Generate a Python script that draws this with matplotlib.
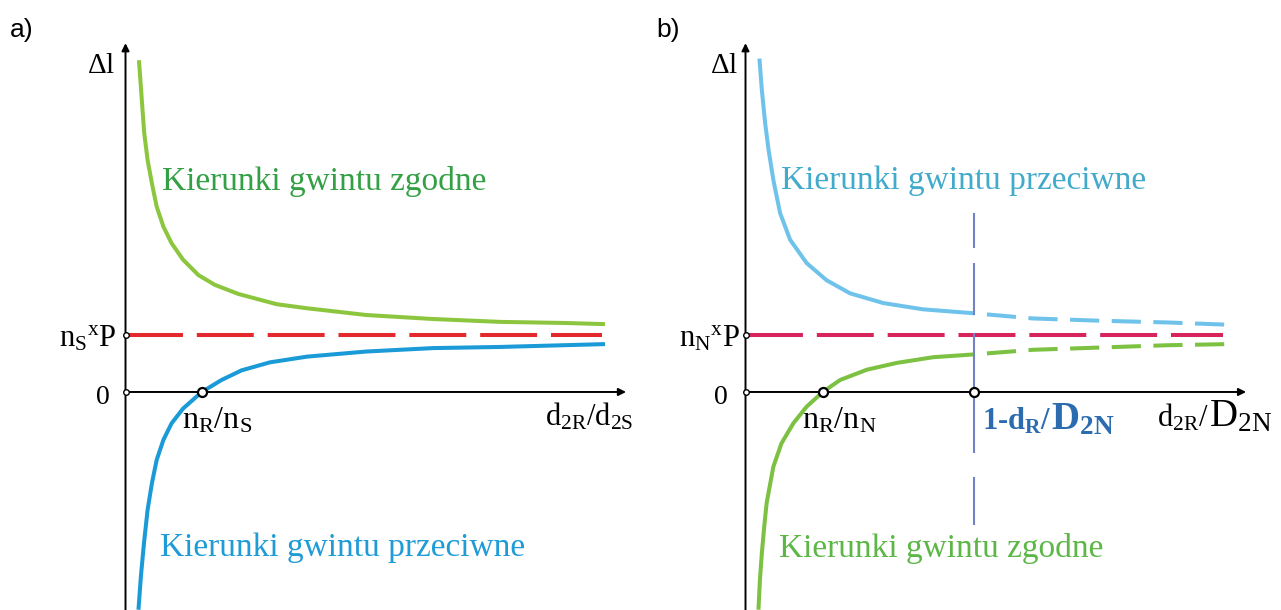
import numpy as np
import matplotlib.pyplot as plt
from matplotlib.offsetbox import TextArea, HPacker, AnnotationBbox

# serif text everywhere, math set in the same serif (upright)
plt.rcParams['font.family'] = 'Liberation Serif'
plt.rcParams['mathtext.fontset'] = 'custom'
plt.rcParams['mathtext.rm'] = 'Liberation Serif'
plt.rcParams['mathtext.it'] = 'Liberation Serif'
plt.rcParams['mathtext.bf'] = 'Liberation Serif:bold'
plt.rcParams['lines.scale_dashes'] = False

# ---- data (x: d2R/d2S axis units, y: multiples of n*P) ----
# panel a) - same thread direction (green), opposite direction (blue)
a_zg_x = [0.28, 0.34, 0.39, 0.46, 0.55, 0.65, 0.79, 0.96, 1.20, 1.52, 1.86, 2.35, 3.15, 3.77, 5.02, 6.41, 7.80, 9.19, 9.99]
a_zg_y = [5.82, 5.12, 4.54, 4.07, 3.66, 3.25, 2.90, 2.61, 2.32, 2.05, 1.88, 1.72, 1.54, 1.47, 1.35, 1.28, 1.23, 1.21, 1.19]
a_pr_x = [0.27, 0.32, 0.385, 0.46, 0.55, 0.65, 0.79, 0.96, 1.20, 1.59, 2.00, 2.42, 3.01, 3.78, 5.02, 6.41, 7.80, 9.99]
a_pr_y = [-3.82, -3.24, -2.65, -2.07, -1.60, -1.19, -0.84, -0.55, -0.29, 0.0, 0.21, 0.38, 0.52, 0.62, 0.71, 0.77, 0.79, 0.84]
a_root = 1.59          # n_R/n_S
a_limit = [0, 9.92]    # n_S x P level, dashed

# panel b) - opposite direction (light blue), same direction (green)
b_pr_x = [0.29, 0.34, 0.41, 0.48, 0.58, 0.72, 0.93, 1.275, 1.69, 2.18, 2.87, 3.70, 4.77]
b_pr_y = [5.85, 5.30, 4.71, 4.25, 3.72, 3.14, 2.67, 2.26, 1.96, 1.73, 1.56, 1.45, 1.38]
b_pr_dx = [4.77, 5.99, 7.39, 8.78, 10.05]
b_pr_dy = [1.38, 1.29, 1.25, 1.22, 1.18]
b_zg_x = [0.27, 0.30, 0.34, 0.39, 0.44, 0.58, 0.75, 0.996, 1.27, 1.61, 1.97, 2.525, 3.15, 3.91, 4.77]
b_zg_y = [-3.82, -3.30, -2.83, -2.36, -1.95, -1.31, -0.90, -0.55, -0.26, 0.0, 0.21, 0.39, 0.51, 0.61, 0.66]
b_zg_dx = [4.77, 5.99, 7.39, 8.78, 10.05]
b_zg_dy = [0.66, 0.74, 0.78, 0.82, 0.84]
b_root = 1.61          # n_R/n_N
b_cut = 4.77           # 1 - d_R/D_2N
b_limit = [0, 9.95]
b_cut_lo = [2.52, 1.35, -1.07, -2.33]
b_cut_hi = [3.135, 2.26, 1.035, -1.49]

x_tip = 10.43
y_tip = 6.12
y_lo, y_hi = -3.825, 6.877

fig = plt.figure(figsize=(12.81, 6.10), dpi=100)
ax_a = fig.add_axes([0, 0, 640 / 1281, 1])
ax_b = fig.add_axes([640 / 1281, 0, 641 / 1281, 1])
ax_a.set_xlim(-2.615, 10.72)
ax_b.set_xlim(-2.198, 11.156)
for ax in (ax_a, ax_b):
    ax.set_ylim(y_lo, y_hi)
    ax.axis('off')


def draw_frame(ax):
    arrow = dict(arrowstyle='-|>', lw=1.4, color='black', mutation_scale=11, shrinkA=0, shrinkB=0)
    ax.annotate('', xy=(0, y_tip), xytext=(0, y_lo), arrowprops=arrow)
    ax.annotate('', xy=(x_tip, 0), xytext=(0, 0), arrowprops=arrow)
    ax.plot([0, 0], [0, 1], 'o', ms=4, mfc='white', mec='black', mew=1.0, zorder=6)


def two_size(ax, x, y, first, second, s1, s2, color, weight='normal'):
    p1 = dict(fontsize=s1, color=color, fontweight=weight, family='Liberation Serif')
    p2 = dict(fontsize=s2, color=color, fontweight=weight, family='Liberation Serif')
    box = HPacker(children=[TextArea(first, textprops=p1), TextArea(second, textprops=p2)],
                  align='baseline', pad=0, sep=0)
    ab = AnnotationBbox(box, (x, y), xycoords='data', box_alignment=(0, 0.5), frameon=False, pad=0)
    ax.add_artist(ab)


lw = 2.9

# ---------------- panel a ----------------
draw_frame(ax_a)
ax_a.plot(a_limit, [1, 1], color='#e3292e', lw=lw, dashes=(41, 10), zorder=2)
ax_a.plot(a_zg_x, a_zg_y, color='#8cc63f', lw=lw, solid_capstyle='butt', solid_joinstyle='round', zorder=3)
ax_a.plot(a_pr_x, a_pr_y, color='#1b9ad8', lw=lw, solid_capstyle='butt', solid_joinstyle='round', zorder=3)
ax_a.plot([a_root], [0], 'o', ms=6.5, mfc='white', mec='black', mew=1.6, zorder=6)

ax_a.text(-0.22, 5.72, r'$\Delta$l', fontsize=21, ha='right', va='center')
ax_a.text(-0.18, 0.93, r'$\mathrm{n_S{}^{x}P}$', fontsize=22, ha='right', va='center')
ax_a.text(-0.32, -0.1, '0', fontsize=20, ha='right', va='center')
ax_a.text(1.18, -0.51, r'$\mathrm{n_R/n_S}$', fontsize=23, ha='left', va='center')
ax_a.text(8.74, -0.44, r'$\mathrm{d_{2R}/d_{2S}}$', fontsize=22, ha='left', va='center')
ax_a.text(0.76, 3.70, 'Kierunki gwintu zgodne', fontsize=24, color='#34a046', ha='left', va='center')
ax_a.text(0.72, -2.74, 'Kierunki gwintu przeciwne', fontsize=24, color='#1f9bd6', ha='left', va='center')
fig.text(10 / 1281, 1 - 30 / 610, 'a)', fontsize=19, family='Liberation Sans', ha='left', va='center')

# ---------------- panel b ----------------
draw_frame(ax_b)
ax_b.plot(b_limit, [1, 1], color='#d7245a', lw=lw, dashes=(41, 10), zorder=2)
ax_b.vlines([b_cut] * len(b_cut_lo), b_cut_lo, b_cut_hi, color='#7282c4', lw=1.5, zorder=4)
ax_b.plot(b_pr_x, b_pr_y, color='#6fc3eb', lw=lw, solid_capstyle='butt', solid_joinstyle='round', zorder=3)
ax_b.plot(b_pr_dx, b_pr_dy, color='#6fc3eb', lw=lw, ls=(21, (21, 9)), zorder=3)
ax_b.plot(b_zg_x, b_zg_y, color='#7cc142', lw=lw, solid_capstyle='butt', solid_joinstyle='round', zorder=3)
ax_b.plot(b_zg_dx, b_zg_dy, color='#7cc142', lw=lw, ls=(21, (21, 9)), zorder=3)
ax_b.plot([b_root, b_cut], [0, 0], 'o', ms=6.5, mfc='white', mec='black', mew=1.6, zorder=6)

ax_b.text(-0.16, 5.72, r'$\Delta$l', fontsize=21, ha='right', va='center')
ax_b.text(-0.12, 0.93, r'$\mathrm{n_N{}^{x}P}$', fontsize=22, ha='right', va='center')
ax_b.text(-0.36, -0.1, '0', fontsize=20, ha='right', va='center')
ax_b.text(1.18, -0.51, r'$\mathrm{n_R/n_N}$', fontsize=23, ha='left', va='center')
two_size(ax_b, 4.92, -0.49, r'1-d$_{\mathbf{R}}$/', r'D$_{\mathbf{2N}}$', 22, 28, '#2b6cb0', 'bold')
two_size(ax_b, 8.57, -0.44, r'd$_{\mathrm{2R}}$/', r'D$_{\mathrm{2N}}$', 22, 28, 'black')
ax_b.text(0.74, 3.70, 'Kierunki gwintu przeciwne', fontsize=24, color='#42aacb', ha='left', va='center')
ax_b.text(0.70, -2.74, 'Kierunki gwintu zgodne', fontsize=24, color='#5cb747', ha='left', va='center')
fig.text(656 / 1281, 1 - 30 / 610, 'b)', fontsize=19, family='Liberation Sans', ha='left', va='center')

fig.savefig('out.png', dpi=100)
